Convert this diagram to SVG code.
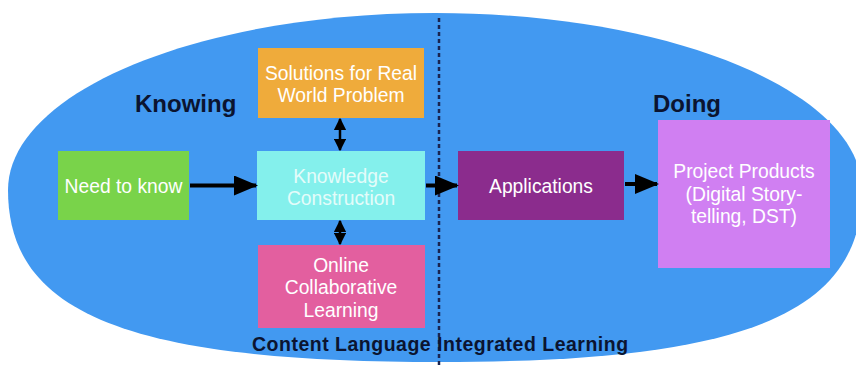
<svg xmlns="http://www.w3.org/2000/svg" width="856" height="367" viewBox="0 0 856 367">
<style>
.bx{stroke:none}
.t{font-family:"Liberation Sans",Arial,Helvetica,sans-serif;font-size:19.3px;fill:#ffffff;text-anchor:middle}
.h{font-family:"Liberation Sans",Arial,Helvetica,sans-serif;font-size:24px;font-weight:bold;fill:#0b1430}
.b{font-family:"Liberation Sans",Arial,Helvetica,sans-serif;font-size:19.5px;font-weight:bold;fill:#0b1430;letter-spacing:0.5px}
.c{stroke:#000;stroke-width:4;fill:none}
.d{stroke:#000;stroke-width:2.5;fill:none}
</style>
<defs>
<marker id="ah" markerWidth="6" markerHeight="5" refX="5.5" refY="2.5" orient="auto" markerUnits="strokeWidth">
<path d="M0,0 L6,2.5 L0,5 z" fill="#000"/>
</marker>
<marker id="as" markerWidth="5" markerHeight="5" refX="4.5" refY="2.5" orient="auto-start-reverse" markerUnits="strokeWidth">
<path d="M0,0 L5,2.5 L0,5 z" fill="#000"/>
</marker>
</defs>
<rect width="856" height="367" fill="#ffffff"/>
<g id="background">
<path d="M8,190 C8,92 199,13 435,13 C671,13 862,92 862,190 C862,314 744,362 440,362 C129,362 8,314 8,190 Z" fill="#4299F1"/>
<line x1="439" y1="18" x2="439" y2="367" stroke="#1a2450" stroke-width="2.5" stroke-dasharray="4 3"/>
</g>
<g id="label-knowing"><text class="h" x="135" y="112">Knowing</text></g>
<g id="label-doing"><text class="h" x="653" y="112">Doing</text></g>
<g id="label-clil"><text class="b" x="252" y="351">Content Language Integrated Learning</text></g>
<g id="solutions">
<rect class="bx" x="258" y="48" width="166" height="70" fill="#EFAB3B"/>
<text class="t" x="341" y="80">Solutions for Real</text>
<text class="t" x="341" y="102">World Problem</text>
</g>
<g id="need">
<rect class="bx" x="58" y="151" width="131" height="69" fill="#79D34A"/>
<text class="t" x="123.5" y="193">Need to know</text>
</g>
<g id="knowledge">
<rect class="bx" x="257" y="151" width="168" height="69" fill="#84F0EC"/>
<text class="t" x="341" y="183" fill="#e6fdfb" style="fill:#e4fcfa">Knowledge</text>
<text class="t" x="341" y="205" style="fill:#e4fcfa">Construction</text>
</g>
<g id="online">
<rect class="bx" x="258" y="245" width="167" height="83" fill="#E35F9F"/>
<text class="t" x="341" y="272">Online</text>
<text class="t" x="341" y="294">Collaborative</text>
<text class="t" x="341" y="317">Learning</text>
</g>
<g id="applications">
<rect class="bx" x="458" y="151" width="166" height="69" fill="#8B2C8D"/>
<text class="t" x="541" y="193">Applications</text>
</g>
<g id="products">
<rect class="bx" x="658" y="120" width="172" height="148" fill="#D07FF2"/>
<text class="t" x="744" y="178">Project Products</text>
<text class="t" x="744" y="201">(Digital Story-</text>
<text class="t" x="744" y="223">telling, DST)</text>
</g>
<g id="connectors">
<line class="c" x1="190" y1="185.5" x2="256" y2="185.5" marker-end="url(#ah)"/>
<line class="c" x1="426" y1="185.5" x2="457" y2="185.5" marker-end="url(#ah)"/>
<line class="c" x1="625" y1="184" x2="657" y2="184" marker-end="url(#ah)"/>
<line class="d" x1="340" y1="119" x2="340" y2="150" marker-start="url(#as)" marker-end="url(#as)"/>
<line class="d" x1="340" y1="221" x2="340" y2="244" marker-start="url(#as)" marker-end="url(#as)"/>
</g>
</svg>
